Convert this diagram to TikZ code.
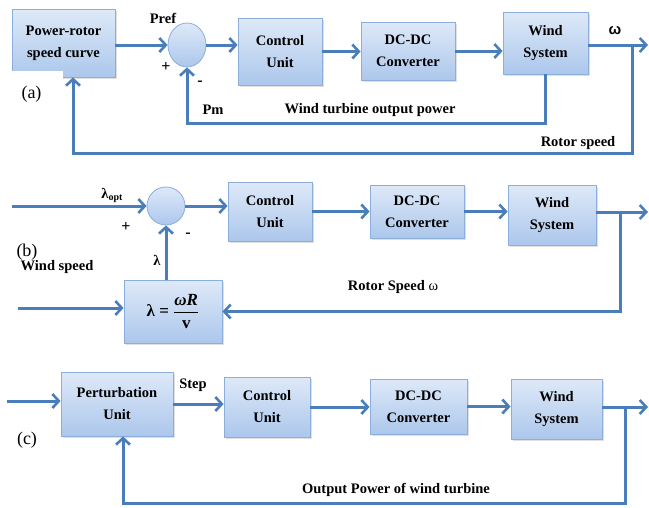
\documentclass[tikz,border=0pt]{standalone}
\usepackage{fontspec}
\setmainfont{Liberation Serif}
\newfontfamily\sansb{Liberation Sans}
\usetikzlibrary{arrows.meta,shapes.geometric,shadows}
\definecolor{linec}{RGB}{74,126,187}
\definecolor{boxtop}{RGB}{222,233,248}
\definecolor{boxbot}{RGB}{172,199,236}
\definecolor{boxborder}{RGB}{140,174,218}
\tikzset{
  blk/.style={rectangle, draw=boxborder, line width=0.8pt, top color=boxtop, bottom color=boxbot,
    drop shadow={opacity=0.25, shadow xshift=1.5pt, shadow yshift=-1.5pt},
    align=center, inner sep=0pt, font=\fontsize{14.5}{22}\selectfont\bfseries},
  sumc/.style={ellipse, draw=boxborder, line width=0.8pt, top color=boxtop, bottom color=boxbot,
    inner sep=0pt},
  conn/.style={draw=linec, line width=3pt},
  arr/.style={conn, -{Straight Barb[length=6.5pt,width=14pt,line width=2.6pt]}},
  lbl/.style={font=\fontsize{14.5}{18}\selectfont\bfseries, inner sep=0pt},
  sgn/.style={font=\fontsize{16}{18}\selectfont\bfseries, inner sep=0pt},
  tag/.style={font=\fontsize{18}{20}\selectfont, inner sep=0pt}
}
\begin{document}
\begin{tikzpicture}[x=1pt,y=-1pt]
\useasboundingbox[fill=white] (0,0) rectangle (649,507);
% ---------------- (a) ----------------
\node[blk, minimum width=103pt, minimum height=68pt] (a1) at (63.5,43) {Power-rotor\\speed curve};
\node[sumc, minimum width=38pt, minimum height=44pt] (ca) at (187,45) {};
\node[blk, minimum width=84pt, minimum height=67pt] (a2) at (280,51.5) {Control\\Unit};
\node[blk, minimum width=94pt, minimum height=58pt] (a3) at (408,51) {DC-DC\\Converter};
\node[blk, minimum width=85pt, minimum height=62pt] (a4) at (545.5,43) {Wind\\System};
\node[tag, fill=white, minimum width=63pt, minimum height=46pt] (ta) at (31.5,94) {(a)};
\coordinate (outa) at (648,45);
\coordinate (ba) at (632,45);
\coordinate (fa) at (73,153);
\coordinate (pm) at (187,123);
\draw[arr] (ca.west -| a1.east) -- (ca.west);
\draw[arr] (ca.east) -- (ca.east -| a2.west);
\draw[arr] (a2.east) -- (a2.east -| a3.west);
\draw[arr] (a3.east) -- (a3.east -| a4.west);
\draw[arr] (outa -| a4.east) -- (outa);
\draw[arr] (ba) |- (fa) -- (fa |- a1.south);
\draw[arr] (a4.south) |- (pm) -- (ca.south);
\node[lbl] (pref) at (163,18) {Pref};
\node[sgn] (pa) at (166,67) {+};
\node[sgn] (ma) at (200,83) {-};
\node[lbl] (pmt) at (213,110) {Pm};
\node[lbl] (wtop) at (370,110) {Wind turbine output power};
\node[lbl] (rs) at (578,143) {Rotor speed};
\node[font=\sansb\fontsize{15}{18}\selectfont\bfseries, inner sep=0pt] (om) at (615,31) {ω};
% ---------------- (b) ----------------
\node[sumc, minimum width=38pt, minimum height=38pt] (cb) at (166,206) {};
\node[blk, minimum width=84pt, minimum height=59pt] (b2) at (270,211.5) {Control\\Unit};
\node[blk, minimum width=94pt, minimum height=53pt] (b3) at (417,211.5) {DC-DC\\Converter};
\node[blk, minimum width=88pt, minimum height=60pt] (b4) at (552,215) {Wind\\System};
\node[blk, minimum width=98pt, minimum height=63pt, font=\fontsize{17}{20}\selectfont\bfseries] (b5) at (173,311.5)
  {λ = $\displaystyle\frac{\mbox{\bfseries\itshape ωR}}{\mbox{\bfseries v}}$};
\coordinate (inb) at (12,206);
\coordinate (outb) at (648,212);
\coordinate (bb) at (620,212);
\coordinate (ws) at (18,308);
\draw[arr] (inb) -- (cb.west);
\draw[arr] (cb.east) -- (cb.east -| b2.west);
\draw[arr] (b2.east) -- (b2.east -| b3.west);
\draw[arr] (b3.east) -- (b3.east -| b4.west);
\draw[arr] (outb -| b4.east) -- (outb);
\draw[arr] (bb) |- (b5.east);
\draw[arr] (ws) -- (ws -| b5.west);
\draw[arr] (cb.south |- b5.north) -- (cb.south);
\node[lbl] (lopt) at (112,195) {λ\raisebox{-2pt}{\fontsize{10}{10}\selectfont opt}};
\node[sgn] (pb) at (126,227) {+};
\node[sgn] (mb) at (188,235) {-};
\node[tag] (tb) at (27,252) {(b)};
\node[lbl] (lam) at (157,260) {λ};
\node[lbl] (wsp) at (57,267) {Wind speed};
\node[lbl] (rso) at (393,287) {Rotor Speed \mdseries ω};
% ---------------- (c) ----------------
\node[blk, minimum width=112pt, minimum height=64pt] (c1) at (117,404) {Perturbation\\Unit};
\node[blk, minimum width=86pt, minimum height=60pt] (c2) at (267,407) {Control\\Unit};
\node[blk, minimum width=97pt, minimum height=55pt] (c3) at (418.5,406.5) {DC-DC\\Converter};
\node[blk, minimum width=91pt, minimum height=60pt] (c4) at (556.5,409) {Wind\\System};
\coordinate (inc) at (7,401);
\coordinate (outc) at (648,407);
\coordinate (bc) at (625,407);
\coordinate (fc) at (123,503);
\draw[arr] (inc) -- (inc -| c1.west);
\draw[arr] (c1.east) -- (c1.east -| c2.west);
\draw[arr] (c2.east) -- (c2.east -| c3.west);
\draw[arr] (c3.east) -- (c3.east -| c4.west);
\draw[arr] (outc -| c4.east) -- (outc);
\draw[arr] (bc) |- (fc) -- (fc |- c1.south);
\node[lbl] (stp) at (193,385) {Step};
\node[tag] (tc) at (27,440) {(c)};
\node[lbl] (opw) at (396,490) {Output Power of wind turbine};
\end{tikzpicture}
\end{document}
